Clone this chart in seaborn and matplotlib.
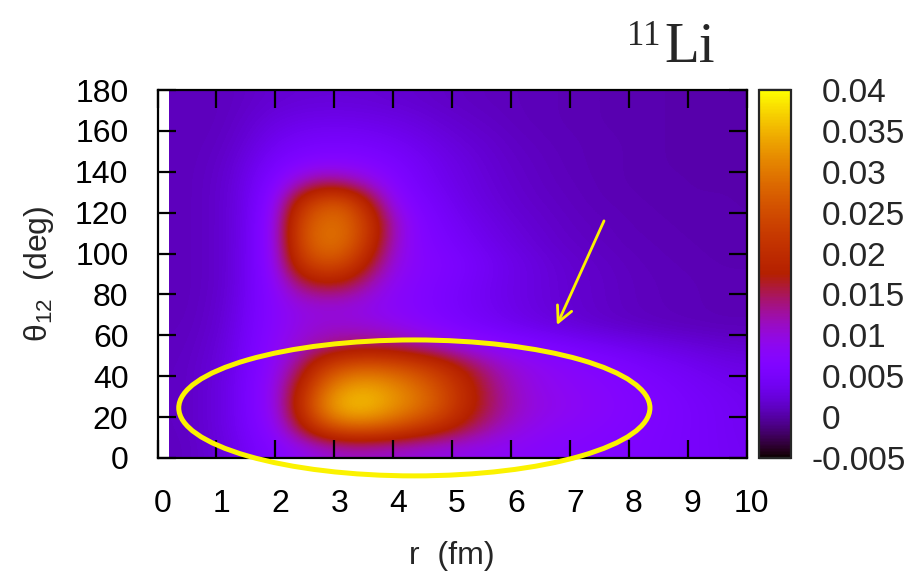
import numpy as np
import matplotlib
matplotlib.use("Agg")
import matplotlib.pyplot as plt
import matplotlib.transforms as mtransforms
from matplotlib.patches import Ellipse
from matplotlib.ticker import FuncFormatter
import seaborn as sns

# two-neutron density of 11Li (units of 1e-3)
r_fm = [0.4, 0.8, 1.2, 1.6, 2.0, 2.4, 2.8, 3.2, 3.6, 4.0, 4.4, 4.8, 5.2,
        5.6, 6.0, 6.4, 6.8, 7.2, 7.6, 8.0, 8.4, 8.8, 9.2, 9.6, 10.0]
theta_deg = [5, 15, 25, 35, 45, 55, 65, 75, 85, 95, 105, 115, 125, 135,
             145, 155, 165, 175]
dens_e3 = [
    [1.2, 1.8, 2.8, 4.8, 6.5, 8.5, 10.0, 11.0, 11.0, 10.5, 10.0, 9.5, 9.0, 8.5, 8.0, 7.5, 7.0, 6.8, 6.5, 6.2, 5.8, 5.4, 5.0, 4.6, 4.2],
    [1.3, 2.0, 3.2, 5.5, 8.5, 16.0, 24.0, 28.0, 28.0, 26.0, 23.0, 20.0, 16.5, 13.0, 10.5, 9.0, 8.0, 7.5, 7.0, 6.5, 6.0, 5.5, 5.0, 4.5, 4.0],
    [1.3, 2.0, 3.2, 5.8, 9.5, 20.0, 31.0, 36.0, 36.0, 33.0, 30.0, 26.0, 20.0, 15.5, 12.0, 10.0, 9.0, 8.2, 7.5, 6.8, 6.2, 5.6, 5.0, 4.5, 4.0],
    [1.3, 2.0, 3.2, 5.8, 9.5, 18.0, 28.0, 33.0, 34.0, 32.0, 29.0, 25.0, 20.0, 15.0, 11.5, 9.5, 8.5, 7.8, 7.2, 6.5, 5.8, 5.2, 4.6, 4.1, 3.7],
    [1.3, 1.9, 3.0, 5.5, 8.5, 14.0, 22.0, 26.0, 27.0, 26.0, 24.0, 21.0, 17.0, 13.0, 10.5, 9.0, 8.0, 7.2, 6.5, 5.8, 5.0, 4.4, 3.8, 3.3, 3.0],
    [1.2, 1.7, 2.8, 5.3, 8.0, 10.5, 12.5, 14.0, 14.5, 14.0, 12.5, 11.0, 9.0, 8.0, 7.0, 6.2, 5.5, 4.8, 4.2, 3.6, 3.1, 2.7, 2.3, 2.0, 1.8],
    [1.1, 1.5, 2.5, 5.0, 7.5, 9.5, 10.5, 10.5, 10.0, 9.0, 7.8, 6.5, 5.5, 4.6, 3.8, 3.2, 2.6, 2.1, 1.7, 1.4, 1.2, 1.0, 0.9, 0.8, 0.8],
    [1.0, 1.4, 2.3, 4.7, 7.5, 9.5, 10.0, 9.8, 9.0, 7.8, 6.8, 5.8, 4.8, 4.0, 3.3, 2.7, 2.2, 1.8, 1.5, 1.2, 1.0, 0.9, 0.8, 0.7, 0.7],
    [1.0, 1.3, 2.1, 4.5, 8.0, 14.0, 17.0, 16.0, 12.0, 8.5, 7.0, 6.0, 5.0, 4.0, 3.3, 2.7, 2.2, 1.8, 1.5, 1.2, 1.0, 0.9, 0.8, 0.7, 0.7],
    [1.0, 1.3, 2.1, 4.4, 9.0, 21.0, 25.5, 24.0, 17.0, 10.0, 7.5, 6.5, 5.5, 4.3, 3.4, 2.7, 2.1, 1.7, 1.4, 1.1, 0.9, 0.8, 0.7, 0.6, 0.6],
    [1.0, 1.3, 2.1, 4.3, 9.5, 24.0, 29.5, 28.5, 21.0, 11.5, 7.2, 5.8, 4.6, 3.6, 2.8, 2.2, 1.7, 1.4, 1.1, 0.9, 0.8, 0.7, 0.6, 0.5, 0.5],
    [1.0, 1.3, 2.1, 4.2, 9.5, 24.0, 29.0, 28.5, 22.0, 12.0, 7.0, 5.2, 4.0, 3.1, 2.4, 1.9, 1.5, 1.2, 1.0, 0.8, 0.7, 0.6, 0.5, 0.5, 0.5],
    [1.0, 1.3, 2.1, 4.0, 8.5, 20.0, 26.0, 26.0, 18.0, 9.0, 6.0, 4.6, 3.3, 2.6, 2.0, 1.6, 1.3, 1.0, 0.8, 0.7, 0.6, 0.5, 0.5, 0.5, 0.4],
    [1.0, 1.3, 2.0, 3.8, 6.5, 11.0, 14.0, 13.0, 10.0, 7.0, 5.0, 3.8, 3.0, 2.3, 1.8, 1.4, 1.1, 0.9, 0.7, 0.6, 0.5, 0.5, 0.4, 0.4, 0.4],
    [1.0, 1.2, 1.8, 3.2, 5.0, 6.3, 7.0, 7.0, 6.5, 5.6, 4.5, 3.5, 2.7, 2.1, 1.6, 1.3, 1.0, 0.8, 0.7, 0.6, 0.5, 0.4, 0.4, 0.4, 0.4],
    [1.0, 1.1, 1.5, 2.5, 3.8, 4.6, 5.0, 5.0, 4.7, 4.2, 3.5, 2.8, 2.2, 1.8, 1.4, 1.1, 0.9, 0.8, 0.7, 0.6, 0.5, 0.4, 0.4, 0.4, 0.4],
    [1.0, 1.0, 1.3, 2.0, 2.8, 3.3, 3.5, 3.5, 3.3, 3.0, 2.6, 2.1, 1.7, 1.4, 1.1, 0.9, 0.8, 0.7, 0.6, 0.5, 0.5, 0.4, 0.4, 0.4, 0.4],
    [1.0, 1.0, 1.2, 1.6, 2.0, 2.2, 2.3, 2.3, 2.2, 2.0, 1.8, 1.5, 1.3, 1.1, 1.0, 0.9, 0.8, 0.7, 0.6, 0.5, 0.5, 0.4, 0.4, 0.4, 0.4],
]
cb_ticks = [-0.005, 0, 0.005, 0.01, 0.015, 0.02, 0.025, 0.03, 0.035, 0.04]
x_ticks = [0, 1, 2, 3, 4, 5, 6, 7, 8, 9, 10]
y_ticks = [0, 20, 40, 60, 80, 100, 120, 140, 160, 180]

sns.set_style("ticks")
plt.rcParams['font.family'] = ['Liberation Sans', 'DejaVu Sans']
plt.rcParams['mathtext.fontset'] = 'custom'
plt.rcParams['mathtext.rm'] = 'Liberation Sans'
plt.rcParams['mathtext.it'] = 'Liberation Sans:italic'

density = np.array(dens_e3) * 1e-3
dr = r_fm[1] - r_fm[0]
dt = theta_deg[1] - theta_deg[0]
cmap = sns.color_palette("gnuplot", as_cmap=True)
yellow = '#fbf200'

fig = plt.figure(figsize=(9.16, 5.73), dpi=100)
ax = fig.add_axes([0.172, 0.2007, 0.643, 0.6422])
im = ax.imshow(density, origin='lower', aspect='auto', cmap=cmap,
               interpolation='bicubic', vmin=-0.005, vmax=0.04,
               extent=[r_fm[0] - dr / 2, r_fm[-1] + dr / 2,
                       theta_deg[0] - dt / 2, theta_deg[-1] + dt / 2])
ax.set_xlim(0, 10)
ax.set_ylim(0, 180)
ax.set_xticks(x_ticks)
ax.set_yticks(y_ticks)
ax.tick_params(direction='in', length=13, width=1.6, top=True, right=True,
               labelsize=23, colors='black')
ax.tick_params(axis='x', pad=22)
ax.tick_params(axis='y', pad=21)
for sp in ax.spines.values():
    sp.set_linewidth(1.6)
    sp.set_color('black')
shift = mtransforms.ScaledTranslation(5 / 100, 0, fig.dpi_scale_trans)
for lbl in ax.get_xticklabels():
    lbl.set_transform(lbl.get_transform() + shift)

ax.set_xlabel("r  (fm)", fontsize=23, labelpad=16)
ax.set_ylabel(r"θ$_{12}$  (deg)", fontsize=23, labelpad=14)

# yellow annotations
ax.add_patch(Ellipse((4.36, 24.5), 8.0, 66.5, fill=False, edgecolor=yellow,
                     lw=3.6, clip_on=False, zorder=5))
ax.annotate("", xy=(6.78, 65), xytext=(7.58, 116),
            arrowprops=dict(arrowstyle='->', color=yellow, lw=2,
                            mutation_scale=28, shrinkA=0, shrinkB=0))

cax = fig.add_axes([0.8286, 0.2007, 0.035, 0.6422])
cb = fig.colorbar(im, cax=cax, ticks=cb_ticks)
cb.outline.set_linewidth(1.6)
cax.yaxis.set_major_formatter(FuncFormatter(lambda v, p: '%g' % round(v, 4)))
cax.tick_params(direction='in', length=23, width=1.6, labelsize=24, pad=22,
                right=True, left=False)
# minus sign of the lowest label sticks out to the left
neg_shift = mtransforms.ScaledTranslation(-10 / 100, 0, fig.dpi_scale_trans)
cb_labels = cax.get_yticklabels()
cb_labels[0].set_transform(cb_labels[0].get_transform() + neg_shift)

fig.text(0.6845, 0.921, "11", fontsize=25, family='Liberation Serif',
         va='baseline', ha='left')
fig.text(0.725, 0.892, "Li", fontsize=41, family='Liberation Serif',
         va='baseline', ha='left')

fig.savefig("out.png", dpi=100)
